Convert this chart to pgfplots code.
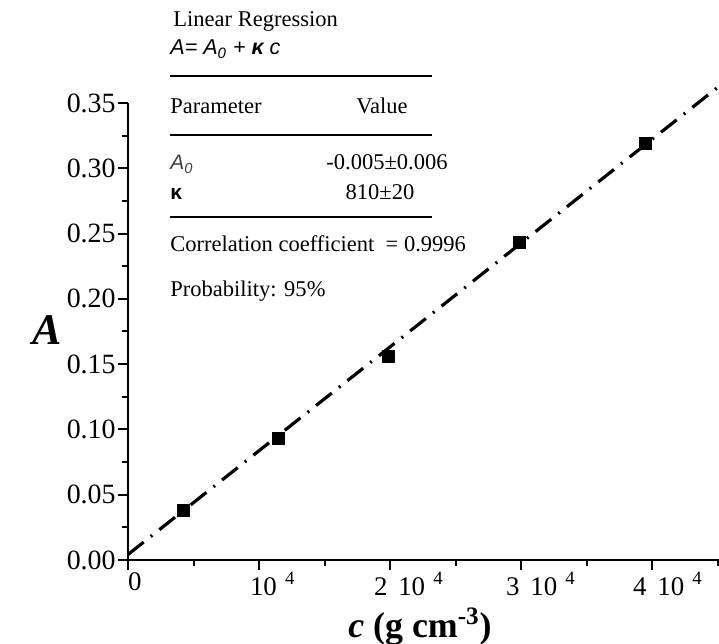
\documentclass[border=0pt]{standalone}
\usepackage{pgfplots}
\pgfplotsset{compat=1.18}
\usepackage{fontspec}
\setmainfont{Liberation Serif}
\setsansfont{Liberation Sans}

% calibration points: absorbance vs concentration
\pgfplotstableread{
x      y
4200   0.038
11450  0.093
19850  0.156
29900  0.243
39500  0.319
}\calib

\newcommand{\tabfont}{\fontsize{11.3}{13}\selectfont}
\newcommand{\ytickfont}{\fontsize{14}{16}\selectfont}
\newcommand{\xtickfont}{\fontsize{13.5}{15}\selectfont}
% left-anchored tick label, moved left by #1
\newcommand{\lft}[2]{\makebox[0pt][l]{\hspace*{-#1}#2}}
\newcommand{\pw}{\hspace{0.3em}\textsuperscript{4}}
\newcommand{\gp}{\hspace{0.4em}}

\begin{document}
\begin{tikzpicture}
\useasboundingbox (-64bp,-42bp) rectangle (295.5bp,280bp);
\begin{axis}[
  anchor=south west, at={(0,0)},
  scale only axis, width=295.5bp, height=228.5bp,
  xmin=0, xmax=45100, ymin=0, ymax=0.35,
  axis lines=left, axis line style={-, line width=1.4bp},
  clip=false,
  xtick={0,10000,20000,30000,40000},
  minor xtick={5000,15000,25000,35000,45000},
  xticklabels={\lft{0bp}{0},
               \lft{4.5bp}{10\pw},
               \lft{8bp}{2\gp 10\pw},
               \lft{7.5bp}{3\gp 10\pw},
               \lft{9.5bp}{4\gp 10\pw}},
  ytick={0,0.05,0.10,0.15,0.20,0.25,0.30,0.35},
  minor ytick={0.025,0.075,0.125,0.175,0.225,0.275,0.325},
  yticklabels={0.00,0.05,0.10,0.15,0.20,0.25,0.30,0.35},
  tick align=outside,
  major tick length=5bp, minor tick length=3bp,
  tick style={black, line width=1bp},
  yticklabel style={font=\ytickfont, inner sep=1bp},
  xticklabel style={font=\xtickfont, inner sep=1bp, anchor=north},
  scaled x ticks=false,
]
% least-squares line, extended across the plot
\addplot[black, line width=1.6bp,
  dash pattern=on 10bp off 4.5bp on 1bp off 4.5bp]
  coordinates {(0,0.0042) (45100,0.3628)};
\addplot[only marks, mark=square*, mark size=3bp, black] table[x=x,y=y] {\calib};
\end{axis}

% axis titles
\node at (-40.5bp,115bp) {\fontsize{22}{24}\selectfont\bfseries\itshape A};
\node[anchor=base] at (146bp,-38.5bp)
  {\fontsize{18}{20}\selectfont\bfseries\textit{c} (g cm\textsuperscript{-3})};

% regression summary
\node[anchor=base west, inner sep=0pt] at (22.5bp,266.5bp) {\tabfont Linear Regression};
\node[anchor=base west, inner sep=0pt] at (21bp,252.5bp)
  {\fontsize{10.8}{12}\selectfont\sffamily\itshape A= A\textsubscript{0} + \textbf{κ} c};
\draw[line width=1.2bp] (21bp,242bp) -- (152bp,242bp);
\node[anchor=base west, inner sep=0pt] at (21bp,223bp) {\tabfont Parameter};
\node[anchor=base, inner sep=0pt] at (127bp,223bp) {\tabfont Value};
\draw[line width=1.2bp] (21bp,212.5bp) -- (152bp,212.5bp);
\node[anchor=base west, inner sep=0pt, text=black!75] at (21bp,195bp)
  {\fontsize{10.5}{12}\selectfont\sffamily\itshape A\textsubscript{0}};
\node[anchor=base, inner sep=0pt] at (129.5bp,195bp) {\tabfont -0.005±0.006};
\node[anchor=base west, inner sep=0pt] at (21bp,180bp)
  {\fontsize{10.5}{12}\selectfont\sffamily\bfseries κ};
\node[anchor=base, inner sep=0pt] at (126bp,180bp) {\tabfont 810±20};
\draw[line width=1.2bp] (21bp,171.5bp) -- (152bp,171.5bp);
\node[anchor=base west, inner sep=0pt] at (21bp,154bp)
  {\tabfont Correlation coefficient \ = 0.9996};
\node[anchor=base west, inner sep=0pt] at (21bp,131.5bp) {\tabfont Probability: 95\%};
\end{tikzpicture}
\end{document}
